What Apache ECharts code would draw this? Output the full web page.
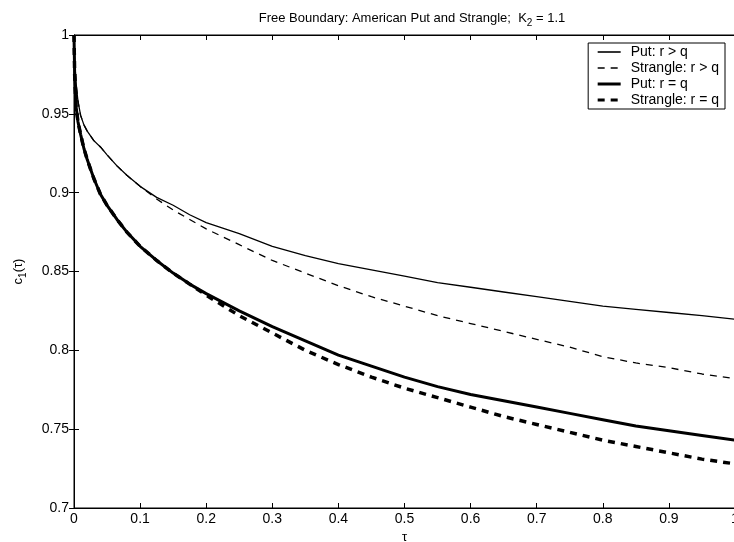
<!DOCTYPE html>
<html>
<head>
<meta charset="utf-8">
<script src="https://cdn.jsdelivr.net/npm/echarts@6/dist/echarts.min.js"></script>
<style>
  html, body { margin: 0; padding: 0; background: #fff; }
  #main { width: 734px; height: 542px; }
</style>
</head>
<body>
<div id="main"></div>
<script>
// tau grid (x values)
const tau = [0, 0.001, 0.003, 0.006, 0.01, 0.015, 0.02, 0.03, 0.04, 0.05, 0.065, 0.08, 0.1, 0.125, 0.15, 0.175, 0.2, 0.25, 0.3, 0.35, 0.4, 0.45, 0.5, 0.55, 0.6, 0.65, 0.7, 0.75, 0.8, 0.85, 0.9, 0.95, 1.0]

// c1(tau) for each curve
const putRgtQ = [1.0, 0.985, 0.970, 0.958, 0.949, 0.943, 0.939, 0.933, 0.929, 0.924, 0.917, 0.911, 0.904, 0.897, 0.892, 0.886, 0.881, 0.874, 0.866, 0.860, 0.855, 0.851, 0.847, 0.843, 0.840, 0.837, 0.834, 0.831, 0.828, 0.826, 0.824, 0.822, 0.8197]
const strangleRgtQ = [1.0, 0.985, 0.970, 0.958, 0.949, 0.943, 0.939, 0.933, 0.929, 0.924, 0.917, 0.911, 0.904, 0.896, 0.889, 0.883, 0.877, 0.867, 0.857, 0.849, 0.841, 0.834, 0.828, 0.822, 0.817, 0.812, 0.807, 0.802, 0.796, 0.792, 0.789, 0.785, 0.782]
const putReqQ = [1.0, 0.975, 0.955, 0.945, 0.937, 0.928, 0.921, 0.909, 0.899, 0.892, 0.883, 0.875, 0.866, 0.857, 0.849, 0.842, 0.836, 0.825, 0.815, 0.806, 0.797, 0.790, 0.783, 0.777, 0.772, 0.768, 0.764, 0.760, 0.756, 0.752, 0.749, 0.746, 0.743]
const strangleReqQ = [1.0, 0.975, 0.955, 0.945, 0.937, 0.928, 0.921, 0.909, 0.899, 0.892, 0.883, 0.875, 0.866, 0.857, 0.849, 0.842, 0.835, 0.822, 0.811, 0.800, 0.791, 0.783, 0.776, 0.770, 0.764, 0.758, 0.753, 0.748, 0.743, 0.739, 0.735, 0.731, 0.728]

const seriesNames = ['Put: r > q', 'Strangle: r > q', 'Put: r = q', 'Strangle: r = q']

const pair = (ys) => tau.map((t, i) => [t, ys[i]])
const font = 'Liberation Sans, Arial, sans-serif'

const styles = [
  { color: '#000', width: 1.3 },
  { color: '#000', width: 1.3, type: [7, 6] },
  { color: '#000', width: 3 },
  { color: '#000', width: 3.5, type: [7, 6] }
]

const chart = echarts.init(document.getElementById('main'))
const option = {
  animation: false,
  backgroundColor: '#fff',
  textStyle: { fontFamily: font, color: '#000' },
  title: {
    text: '{t|Free Boundary: American Put and Strangle;  K}{s|2}{t| = 1.1}',
    left: 407,
    textAlign: 'center',
    top: 4,
    textStyle: {
      fontWeight: 'normal',
      rich: {
        t: { fontFamily: font, fontSize: 13, color: '#000', fontWeight: 'normal' },
        s: { fontFamily: font, fontSize: 10, color: '#000', fontWeight: 'normal', padding: [9, 0, 0, 0] }
      }
    }
  },
  legend: {
    data: seriesNames.map((n, i) => ({ name: n, lineStyle: Object.assign({}, styles[i], { width: i < 2 ? 1.6 : 3 }) })),
    orient: 'vertical',
    right: 9,
    top: 43,
    padding: [2, 6, 2, 8],
    itemGap: 2,
    itemWidth: 23,
    itemHeight: 12,
    borderColor: '#000',
    borderWidth: 1,
    backgroundColor: '#fff',
    itemStyle: { opacity: 0 },
    textStyle: { fontFamily: font, fontSize: 14, color: '#000', padding: [0, 0, 0, 5] }
  },
  grid: { left: 74, top: 35, width: 661, height: 473, outerBoundsMode: 'none', containLabel: false, show: true, borderColor: '#000', borderWidth: 1 },
  xAxis: [{
    type: 'value',
    position: 'bottom',
    min: 0,
    max: 1,
    interval: 0.1,
    name: 'τ',
    nameLocation: 'middle',
    nameGap: 23,
    nameTextStyle: { fontFamily: font, fontSize: 13, color: '#000' },
    axisLine: { lineStyle: { color: '#000' } },
    axisTick: { inside: true, length: 5, lineStyle: { color: '#000' } },
    axisLabel: { fontFamily: font, fontSize: 14, color: '#000', margin: 4 },
    splitLine: { show: false }
  }, {
    type: 'value',
    position: 'top',
    min: 0,
    max: 1,
    interval: 0.1,
    axisLine: { lineStyle: { color: '#000' } },
    axisTick: { inside: true, length: 5, lineStyle: { color: '#000' } },
    axisLabel: { show: false },
    splitLine: { show: false }
  }],
  yAxis: [{
    type: 'value',
    position: 'left',
    min: 0.7,
    max: 1,
    interval: 0.05,
    name: '{a|c}{s|1}{a|(τ)}',
    nameLocation: 'middle',
    nameRotate: 90,
    nameGap: 46,
    nameTextStyle: {
      rich: {
        a: { fontFamily: font, fontSize: 13, color: '#000' },
        s: { fontFamily: font, fontSize: 10, color: '#000', padding: [9, 0, 0, 0] }
      }
    },
    axisLine: { lineStyle: { color: '#000' } },
    axisTick: { inside: false, length: -5, lineStyle: { color: '#000' } },
    axisLabel: { fontFamily: font, fontSize: 14, color: '#000', margin: 5, formatter: v => String(+v.toFixed(2)) },
    splitLine: { show: false }
  }, {
    type: 'value',
    position: 'right',
    min: 0.7,
    max: 1,
    interval: 0.05,
    axisLine: { lineStyle: { color: '#000' } },
    axisTick: { inside: true, length: 5, lineStyle: { color: '#000' } },
    axisLabel: { show: false },
    splitLine: { show: false }
  }],
  series: seriesNames.map((n, i) => ({
    name: n,
    type: 'line',
    data: pair([putRgtQ, strangleRgtQ, putReqQ, strangleReqQ][i]),
    symbol: 'none',
    lineStyle: styles[i],
    itemStyle: { color: '#000' },
    z: i < 2 ? 3 : 2
  }))
}
chart.setOption(option)
</script>
</body>
</html>
